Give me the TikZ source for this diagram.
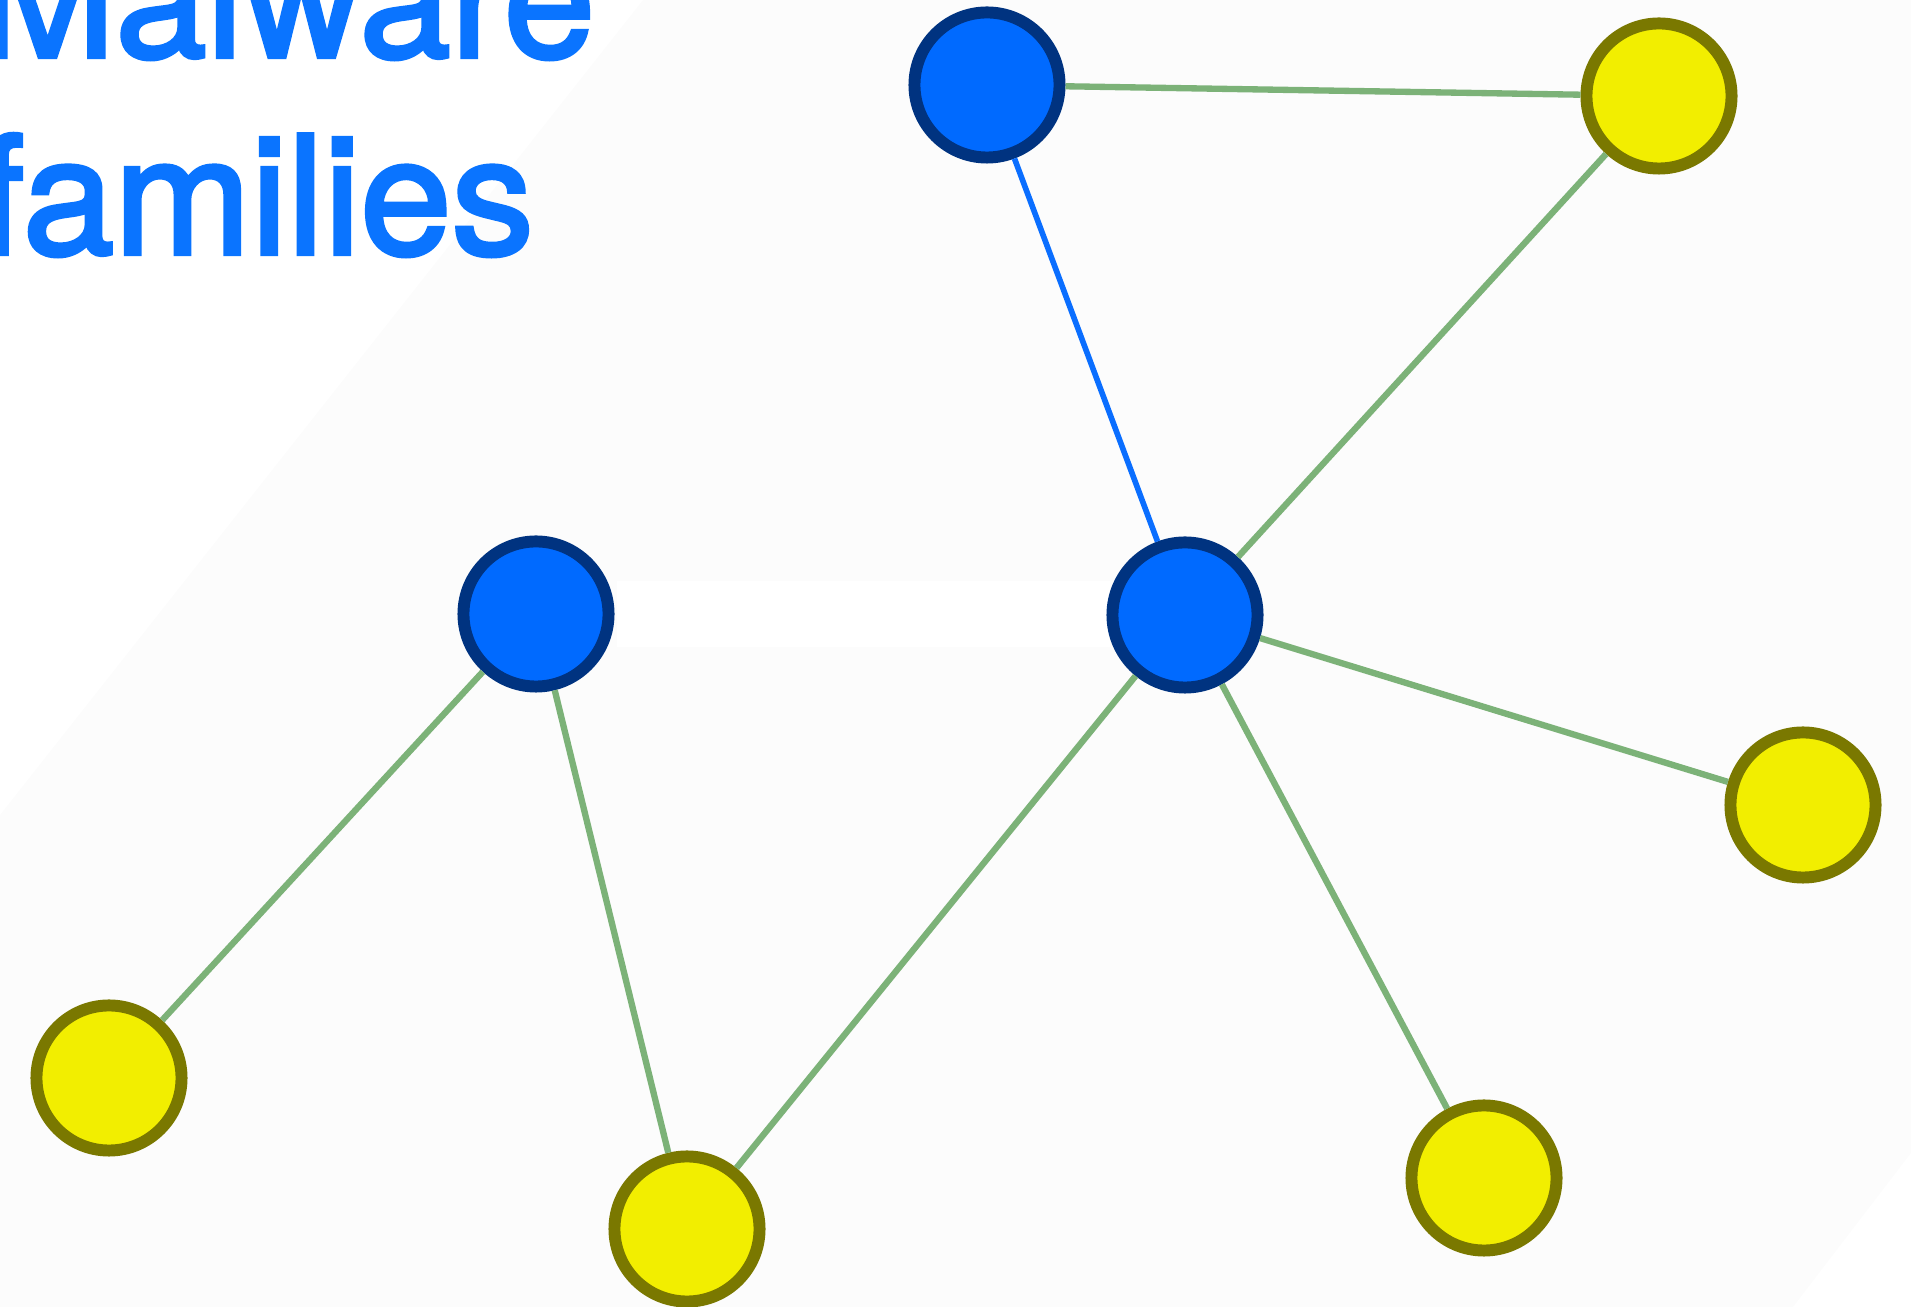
\documentclass[tikz,border=0pt]{standalone}
\usepackage{fontspec}
\setmainfont{TeX Gyre Heros}
\newfontfamily\ttlfont{TeX Gyre Heros}[FakeBold=2.5]
\usetikzlibrary{positioning,calc}
\definecolor{ttlblue}{RGB}{10,116,255}
\definecolor{famfill}{RGB}{0,106,255}
\definecolor{famdraw}{RGB}{0,51,128}
\definecolor{smpfill}{RGB}{242,238,0}
\definecolor{smpdraw}{RGB}{122,120,0}
\definecolor{linkgreen}{RGB}{124,178,120}
\definecolor{linkblue}{RGB}{10,110,255}
\definecolor{bgpaper}{RGB}{252,252,252}
\tikzset{
  fam/.style={circle, draw=famdraw, fill=famfill, line width=3.4pt, inner sep=0pt, minimum size=1.45cm},
  smp/.style={circle, draw=smpdraw, fill=smpfill, line width=3.4pt, inner sep=0pt, minimum size=1.45cm},
  link/.style={draw=linkgreen, line width=1.8pt},
  famlink/.style={draw=linkblue, line width=1.6pt},
  ttl/.style={anchor=base west, inner sep=0pt, text=ttlblue, font=\ttlfont\fontsize{46.7pt}{56pt}\selectfont}
}

\begin{document}
\begin{tikzpicture}[x=0.01cm, y=-0.01cm]
\useasboundingbox (0,0) rectangle (1911,1307);
\clip (0,0) rectangle (1911,1307);
% backdrop
\fill[bgpaper] (643,0) -- (1911,0) -- (1911,1153) -- (1793,1307) -- (0,1307) -- (0,815) -- cycle;
\fill[white] (617,581) rectangle (1110,647);

\node[ttl] (ttla) at (-22,57) {Malware};
\node[ttl] (ttlb) at (-22,254) {families};

% families
\node[fam] (famtop) at (987,85) {};
\node[fam] (famleft) at (536,614) {};
\node[fam] (famhub) at (1185,615) {};

% samples
\node[smp] (smptr) at (1659,96) {};
\node[smp] (smpr) at (1803,805) {};
\node[smp] (smpbl) at (109,1078) {};
\node[smp] (smpb) at (687,1229) {};
\node[smp] (smpbr) at (1484,1178) {};

\draw[link] (famtop) -- (smptr);
\draw[famlink] (famtop) -- (famhub);
\draw[link] (smptr) -- (famhub);
\draw[link] (famhub) -- (smpr);
\draw[link] (famhub) -- (smpbr);
\draw[link] (famhub) -- (smpb);
\draw[link] (famleft) -- (smpbl);
\draw[link] (famleft) -- (smpb);
\end{tikzpicture}
\end{document}
